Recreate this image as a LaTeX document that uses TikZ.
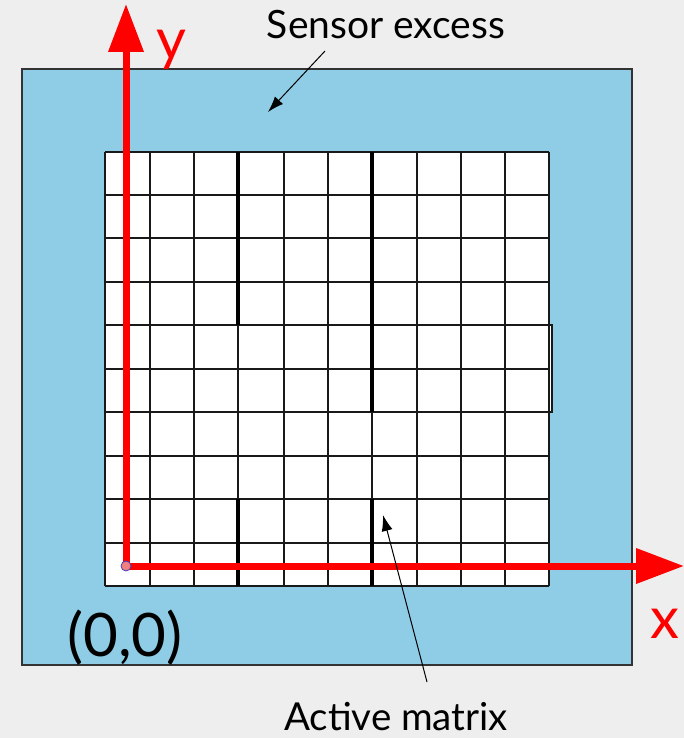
\documentclass[tikz,border=0pt]{standalone}
\usepackage{fontspec}
\setmainfont{Lato}
\usetikzlibrary{arrows.meta}
\definecolor{bg}{HTML}{EEEEEE}
\definecolor{sensorblue}{HTML}{8FCDE6}
\definecolor{axisred}{HTML}{FF0000}
\definecolor{dotpink}{HTML}{F08080}
\tikzset{
  gridthin/.style={draw=black!90, line width=2.3pt},
  gridthick/.style={draw=black, line width=4.5pt},
  axis/.style={draw=axisred, line width=7pt, -{Triangle[length=48pt,width=34pt]}},
  pointer/.style={draw=black, line width=1pt, -{Latex[length=16pt,width=11pt]}},
  lbl/.style={anchor=base, inner sep=0pt, text=black},
}
\begin{document}
\begin{tikzpicture}[x=1pt,y=-1pt]
\fill[bg] (0,0) rectangle (684,738);
\useasboundingbox (0,0) rectangle (684,738);
% sensor
\filldraw[fill=sensorblue, draw=black!80, line width=2pt] (22,69) rectangle (632,665);
% active matrix
\fill[white] (105,152) rectangle (549,586);
\fill[white] (549,325) rectangle (552,412);
\foreach \yy in {152,195,238,282,325,369,412,456,499,543,586}
  \draw[gridthin] (105,\yy) -- (549,\yy);
\foreach \xx in {105,150,194,238,284,328,372,417,461,505,549}
  \draw[gridthin] (\xx,152) -- (\xx,586);
\draw[gridthin] (549,325) -- (552,325) -- (552,412) -- (549,412);
\draw[gridthick] (238,152) -- (238,325);
\draw[gridthick] (238,499) -- (238,586);
\draw[gridthick] (372,152) -- (372,412);
\draw[gridthick] (372,499) -- (372,586);
% axes
\coordinate (o) at (126,566);
\coordinate (ytip) at (126,4);
\coordinate (xtip) at (684,566);
\draw[axis] (o) -- (ytip);
\draw[axis] (o) -- (xtip);
\filldraw[fill=dotpink, draw=blue!50!gray, line width=0.8pt] (o) circle (5pt);
% labels
\node[lbl, text=axisred, font=\fontsize{58}{60}\selectfont] (ylab) at (171,60) {y};
\node[lbl, text=axisred, font=\fontsize{58}{60}\selectfont] (xlab) at (665,638) {x};
\node[lbl, font=\fontsize{60}{62}\selectfont] (origin) at (125,656) {(0,0)};
\node[lbl, font=\fontsize{39}{42}\selectfont] (sens) at (386,39) {Sensor excess};
\node[lbl, font=\fontsize{38.5}{41}\selectfont] (act) at (396,730) {Active matrix};
% pointers
\coordinate (s1) at (325,51);
\coordinate (s2) at (268,112);
\coordinate (a1) at (427,682);
\coordinate (a2) at (383,515);
\draw[pointer] (s1) -- (s2);
\draw[pointer] (a1) -- (a2);
\end{tikzpicture}
\end{document}
